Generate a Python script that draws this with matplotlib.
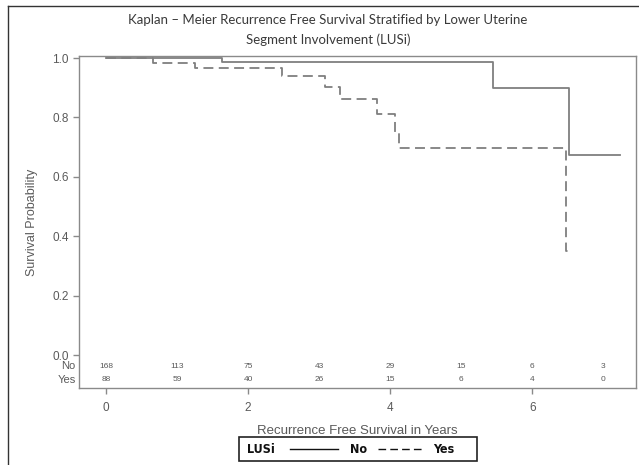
import matplotlib
matplotlib.use("Agg")
import matplotlib.pyplot as plt
from matplotlib.lines import Line2D
from matplotlib.patches import Rectangle

# --- Data ---
# Kaplan-Meier step curves (time in years, survival probability)
no_times = [0, 1.63, 5.45, 6.52, 7.24]
no_surv = [1.0, 0.986, 0.899, 0.673, 0.673]
yes_times = [0, 0.66, 1.25, 2.48, 3.08, 3.30, 3.82, 4.07, 4.13, 6.48, 6.52]
yes_surv = [1.0, 0.985, 0.968, 0.939, 0.903, 0.861, 0.811, 0.75, 0.697, 0.35, 0.35]

# Numbers at risk
risk_times = [0, 1, 2, 3, 4, 5, 6, 7]
risk_no = [168, 113, 75, 43, 29, 15, 6, 3]
risk_yes = [88, 59, 40, 26, 15, 6, 4, 0]

x_ticks = [0, 2, 4, 6]
y_ticks = [0.0, 0.2, 0.4, 0.6, 0.8, 1.0]

line_col = "#7f7f7f"
axis_col = "#8a8a8a"
text_col = "#5a5a5a"
dash = (0, (5.5, 3))

fig = plt.figure(figsize=(6.39, 4.65), dpi=100)
ax = fig.add_axes([79 / 639, 1 - 388 / 465, (636 - 79) / 639, (388 - 56) / 465])

# --- Curves ---
ax.plot(no_times, no_surv, drawstyle="steps-post", color=line_col, lw=1.3)
ax.plot(yes_times, yes_surv, drawstyle="steps-post", color=line_col, lw=1.3,
        linestyle=dash)

ax.set_xlim(-0.38, 7.46)
ax.set_ylim(-0.111, 1.007)

# --- Axes styling ---
for s in ax.spines.values():
    s.set_color(axis_col)
    s.set_linewidth(1.0)

ax.set_yticks(y_ticks)
ax.set_yticklabels([f"{v:.1f}" for v in y_ticks])
ax.set_xticks(x_ticks)
ax.tick_params(axis="both", colors=axis_col, labelcolor=text_col,
               labelsize=8.5, length=4, width=1, direction="out")
ax.tick_params(axis="x", pad=6)
for lbl in ax.get_xticklabels() + ax.get_yticklabels():
    lbl.set_family("Liberation Sans")

ax.set_xlabel("Recurrence Free Survival in Years", family="Liberation Sans",
              fontsize=9.5, color=text_col, labelpad=8)
ax.set_ylabel("Survival Probability", family="Liberation Sans",
              fontsize=9, color=text_col, labelpad=10)

# --- Numbers at risk table inside the axes ---
for t, n, y in zip(risk_times, risk_no, risk_yes):
    ax.text(t, -0.037, str(n), ha="center", va="center", fontsize=6,
            color=text_col, family="Liberation Sans")
    ax.text(t, -0.084, str(y), ha="center", va="center", fontsize=6,
            color=text_col, family="Liberation Sans")
ax.text(-0.43, -0.037, "No", ha="right", va="center", fontsize=8,
        color=text_col, family="Liberation Sans")
ax.text(-0.43, -0.084, "Yes", ha="right", va="center", fontsize=8,
        color=text_col, family="Liberation Sans")

# --- Title ---
title_font = dict(ha="center", va="center", fontsize=9.5, color="#3a3a3a", family="Lato")
fig.text(0.513, 1 - 20 / 465,
         "Kaplan \u2013 Meier Recurrence Free Survival Stratified by Lower Uterine", **title_font)
fig.text(0.513, 1 - 40 / 465, "Segment Involvement (LUSi)", **title_font)

# --- Legend box (drawn by hand, SAS style) ---
fig.patches.append(Rectangle((239 / 639, 1 - 461 / 465), (477 - 239) / 639, 24 / 465,
                             transform=fig.transFigure, fill=False,
                             edgecolor="#222222", lw=1.2))
ly = 1 - 449 / 465
leg_font = dict(va="center", fontsize=9, fontweight="bold", color="#111111",
                family="DejaVu Sans", fontstretch="condensed")
fig.text(247 / 639, ly, "LUSi", ha="left", **leg_font)
fig.lines.append(Line2D([290 / 639, 338 / 639], [ly, ly], transform=fig.transFigure,
                        color="#111111", lw=1))
fig.text(350 / 639, ly, "No", ha="left", **leg_font)
fig.lines.append(Line2D([378 / 639, 424 / 639], [ly, ly], transform=fig.transFigure,
                        color="#111111", lw=1, linestyle=dash))
fig.text(433 / 639, ly, "Yes", ha="left", **leg_font)

# --- Outer page frame (from the cropped document) ---
fig.lines.append(Line2D([8 / 639, 1.0], [1 - 6 / 465, 1 - 6 / 465],
                        transform=fig.transFigure, color="#333333", lw=1))
fig.lines.append(Line2D([8 / 639, 8 / 639], [1 - 6 / 465, 0.0],
                        transform=fig.transFigure, color="#333333", lw=1))

fig.savefig("out.png", dpi=100)
